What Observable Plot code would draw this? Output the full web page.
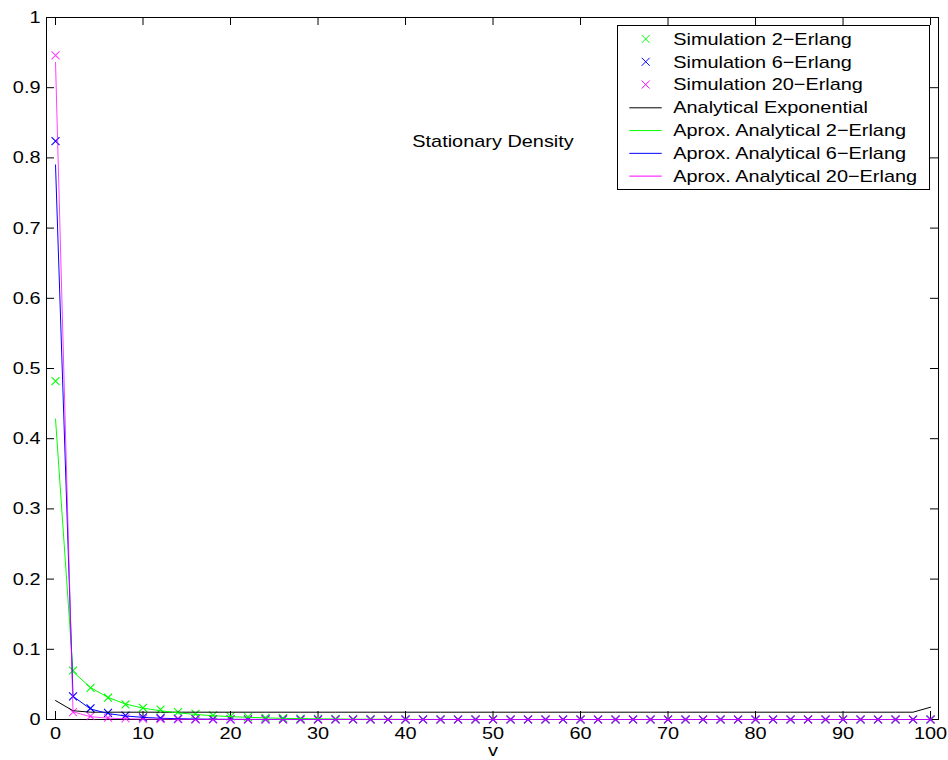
<!DOCTYPE html>
<html>
<head>
<meta charset="utf-8">
<script src="https://cdn.jsdelivr.net/npm/d3@7"></script>
<script src="https://cdn.jsdelivr.net/npm/@observablehq/plot@0.6"></script>
<style>
  html, body { margin: 0; padding: 0; background: #fff; }
  #chart { width: 948px; height: 760px; }
</style>
</head>
<body>
<div id="chart"></div>
<script>
// ---- data ----
const vValues = [0,2,4,6,8,10,12,14,16,18,20,22,24,26,28,30,32,34,36,38,40,42,44,46,48,50,
  52,54,56,58,60,62,64,66,68,70,72,74,76,78,80,82,84,86,88,90,92,94,96,98,100];

const sim2 = [0.482,0.0698,0.045,0.031,0.0214,0.0167,0.0142,0.0105,0.008,0.0058,0.0044,0.0033,0.0025,0.0019,0.0014,0.001,
  0.0008,0.0006,0.0004,0.0003,0.0002,0.0002,0.0001,0.0001,0.0001,0.0001,
  0,0,0,0,0,0,0,0,0,0,0,0,0,0,0,0,0,0,0,0,0,0,0,0,0];
const sim6 = [0.824,0.033,0.016,0.0095,0.0057,0.003,0.0018,0.001,0.0006,0.0004,0.0003,0.0002,0.0001,0.0001,0,0,
  0,0,0,0,0,0,0,0,0,0,
  0,0,0,0,0,0,0,0,0,0,0,0,0,0,0,0,0,0,0,0,0,0,0,0,0];
const sim20 = [0.946,0.0105,0.0047,0.0025,0.0015,0.001,0.0006,0.0004,0.0003,0.0002,0.0001,0,0,0,0,0,
  0,0,0,0,0,0,0,0,0,0,
  0,0,0,0,0,0,0,0,0,0,0,0,0,0,0,0,0,0,0,0,0,0,0,0,0];

const anExp = [0.027,0.0125,0.0104,0.0104,0.0104,0.0104,0.0104,0.0104,0.0104,0.0104,0.0104,0.0104,0.0104,0.0104,0.0104,0.0104,
  0.0104,0.0104,0.0104,0.0104,0.0104,0.0104,0.0104,0.0104,0.0104,0.0104,
  0.0104,0.0104,0.0104,0.0104,0.0104,0.0104,0.0104,0.0104,0.0104,0.0104,0.0104,0.0104,0.0104,0.0104,0.0104,0.0104,0.0104,0.0104,0.0104,0.0104,0.0104,0.0104,0.0104,0.0104,0.0175];
const an2 = [0.428,0.068,0.0455,0.0315,0.022,0.0162,0.0125,0.0095,0.0072,0.0054,0.0041,0.0031,0.0023,0.0017,0.0013,0.001,
  0.0007,0.0005,0.0004,0.0003,0.0002,0.0002,0.0001,0.0001,0.0001,0,
  0,0,0,0,0,0,0,0,0,0,0,0,0,0,0,0,0,0,0,0,0,0,0,0,0];
const an6 = [0.79,0.033,0.015,0.0085,0.005,0.003,0.0018,0.0011,0.0007,0.0004,0.0003,0.0002,0.0001,0.0001,0,0,
  0,0,0,0,0,0,0,0,0,0,
  0,0,0,0,0,0,0,0,0,0,0,0,0,0,0,0,0,0,0,0,0,0,0,0,0];
const an20 = [0.936,0.011,0.004,0.002,0.001,0.0006,0.0004,0.0002,0.0001,0,0,0,0,0,0,0,
  0,0,0,0,0,0,0,0,0,0,
  0,0,0,0,0,0,0,0,0,0,0,0,0,0,0,0,0,0,0,0,0,0,0,0,0];

const xTicks = [0,10,20,30,40,50,60,70,80,90,100];
const yTicks = [0,0.1,0.2,0.3,0.4,0.5,0.6,0.7,0.8,0.9,1];
const xDomain = [-1.03, 100.91];
const yDomain = [0, 1];
const xLabel = "v";
const annotation = {text: "Stationary Density", v: 50, y: 0.824};

const legendItems = [
  {label: "Simulation 2\u2212Erlang", color: "#00ff00", kind: "x"},
  {label: "Simulation 6\u2212Erlang", color: "#0000ff", kind: "x"},
  {label: "Simulation 20\u2212Erlang", color: "#ff00ff", kind: "x"},
  {label: "Analytical Exponential", color: "#000000", kind: "line"},
  {label: "Aprox. Analytical 2\u2212Erlang", color: "#00ff00", kind: "line"},
  {label: "Aprox. Analytical 6\u2212Erlang", color: "#0000ff", kind: "line"},
  {label: "Aprox. Analytical 20\u2212Erlang", color: "#ff00ff", kind: "line"}
];

// ---- build tidy tables ----
const toRows = (arr) => arr.map((y, i) => ({v: vValues[i], y}));
const simSeries = [
  {rows: toRows(sim2), color: "#00ff00", opacity: 1},
  {rows: toRows(sim6), color: "#0000ff", opacity: 1},
  {rows: toRows(sim20), color: "#ff00ff", opacity: 0.75}
];
const lineSeries = [
  {rows: toRows(anExp), color: "#000000", opacity: 1},
  {rows: toRows(an2), color: "#00ff00", opacity: 1},
  {rows: toRows(an6), color: "#0000ff", opacity: 1},
  {rows: toRows(an20), color: "#ff00ff", opacity: 0.75}
];

const W = 948, H = 760;
const mL = 46, mR = 10, mT = 17, mB = 41;
const frameW = W - mL - mR, frameH = H - mT - mB;
const tickLen = 8;
const FONT = "'Liberation Sans', Arial, Helvetica, sans-serif";

const marks = [
  Plot.frame({stroke: "black", strokeWidth: 1}),
  // inward ticks on all four sides
  Plot.ruleX(xTicks, {x: d => d, insetTop: frameH - tickLen, stroke: "black"}),
  Plot.ruleX(xTicks, {x: d => d, insetBottom: frameH - tickLen, stroke: "black"}),
  Plot.ruleY(yTicks, {y: d => d, insetRight: frameW - tickLen, stroke: "black"}),
  Plot.ruleY(yTicks, {y: d => d, insetLeft: frameW - tickLen, stroke: "black"}),
  Plot.axisX({ticks: xTicks, tickSize: 0, tickPadding: 7, label: null, tickFormat: d3.format("d")}),
  Plot.axisY({ticks: yTicks, tickSize: 0, tickPadding: 6, label: null, tickFormat: d => String(d)}),
  Plot.text([xLabel], {x: 50, frameAnchor: "bottom", dy: 36, text: d => d, fill: "black", fontSize: 17}),
  Plot.text([annotation], {x: "v", y: "y", text: "text", fill: "black", fontSize: 17})
];
for (const s of simSeries) {
  marks.push(Plot.dot(s.rows, {x: "v", y: "y", symbol: "times", r: 3.7, stroke: s.color, strokeWidth: 1.1, strokeOpacity: s.opacity}));
}
for (const s of lineSeries) {
  marks.push(Plot.line(s.rows, {x: "v", y: "y", stroke: s.color, strokeWidth: 1, strokeOpacity: s.opacity}));
}

const chart = Plot.plot({
  width: W, height: H,
  marginLeft: mL, marginRight: mR, marginTop: mT, marginBottom: mB,
  x: {domain: xDomain},
  y: {domain: yDomain},
  style: {fontFamily: FONT, fontSize: "17px", color: "black", background: "white", overflow: "visible"},
  marks
});
document.getElementById("chart").append(chart);

// ---- legend (drawn in the SVG) ----
const svg = d3.select(chart);
const lg = svg.append("g").attr("font-family", FONT).attr("font-size", 17).attr("text-anchor", "start");
const lx = 617, ly = 25, lw = 312, lh = 164;
lg.append("rect").attr("x", lx + 0.5).attr("y", ly + 0.5).attr("width", lw).attr("height", lh)
  .attr("fill", "white").attr("stroke", "black").attr("stroke-width", 1);
const rowY0 = 39, rowStep = 22.77, symX = 645.7;
legendItems.forEach((it, i) => {
  const cy = rowY0 + i * rowStep;
  if (it.kind === "x") {
    lg.append("path").attr("d", `M${symX-4},${cy-4}L${symX+4},${cy+4}M${symX-4},${cy+4}L${symX+4},${cy-4}`)
      .attr("stroke", it.color).attr("stroke-width", 1).attr("fill", "none");
  } else {
    lg.append("line").attr("x1", 629.3).attr("x2", 661.7).attr("y1", cy + 0.5).attr("y2", cy + 0.5)
      .attr("stroke", it.color).attr("stroke-width", 1);
  }
  lg.append("text").attr("x", 673.3).attr("y", cy).attr("dy", "0.35em").attr("fill", "black")
    .attr("text-anchor", "start").text(it.label);
});

// ---- horizontal stretch of text to match the reference's wide rendering ----
const STRETCH = 1.17;
chart.querySelectorAll("text").forEach(t => {
  const w = t.getComputedTextLength();
  if (w > 0) {
    t.setAttribute("textLength", (w * STRETCH).toFixed(2));
    t.setAttribute("lengthAdjust", "spacingAndGlyphs");
  }
});
</script>
</body>
</html>
